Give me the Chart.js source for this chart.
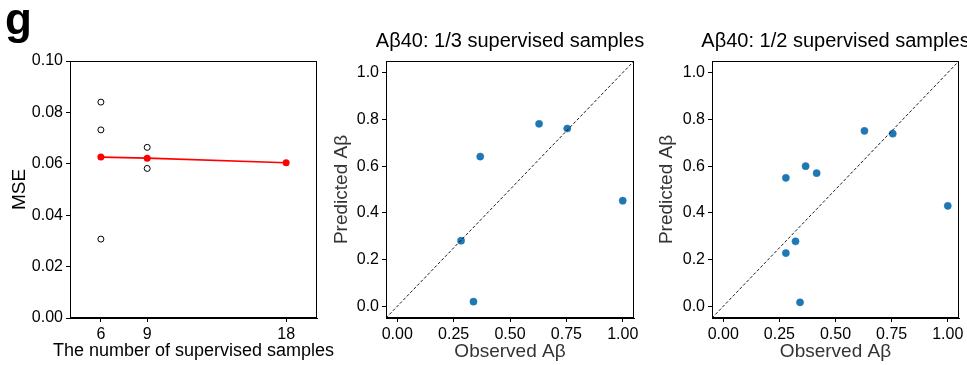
<!DOCTYPE html>
<html>
<head>
<meta charset="utf-8">
<script src="https://cdn.jsdelivr.net/npm/chart.js@4"></script>
<style>
    body { margin: 0; background: #fff; width: 967px; height: 365px; overflow: hidden; position: relative; }
    canvas { position: absolute; top: 0; }
</style>
</head>
<body>
<canvas id="mseChart" width="345" height="365" style="left:0px"></canvas>
<canvas id="thirdChart" width="320" height="365" style="left:330px"></canvas>
<canvas id="halfChart" width="312" height="365" style="left:655px"></canvas>
<script>
// MSE vs number of supervised samples
const sampleSizes = [6, 9, 18];
const meanMse = [0.0626, 0.0622, 0.0604];
const runSizes = [6, 6, 6, 9, 9];
const runMse = [0.0840, 0.0732, 0.0307, 0.0664, 0.0582];
const mseXTicks = [6, 9, 18];
const mseYTicks = [0, 0.02, 0.04, 0.06, 0.08, 0.10];

// Abeta40, 1/3 supervised samples
const observedThird = [0.283, 0.338, 0.368, 0.629, 0.754, 1.0];
const predictedThird = [0.281, 0.020, 0.641, 0.781, 0.761, 0.452];

// Abeta40, 1/2 supervised samples
const observedHalf = [0.279, 0.279, 0.322, 0.342, 0.367, 0.416, 0.629, 0.755, 1.0];
const predictedHalf = [0.550, 0.228, 0.278, 0.017, 0.600, 0.570, 0.751, 0.739, 0.430];

const obsTicks = [0, 0.25, 0.5, 0.75, 1.0];
const predTicks = [0, 0.2, 0.4, 0.6, 0.8, 1.0];
const unitLimits = [-0.05, 1.05];

const FONT = '"Liberation Sans", Arial, Helvetica, sans-serif';
Chart.defaults.font.family = FONT;
Chart.defaults.color = '#000';

const toPts = (xs, ys) => xs.map((x, i) => ({ x: x, y: ys[i] }));

// full box around the plot area, panel title, and things wider than the plot area
const framePlugin = {
    id: 'frame',
    afterDraw(chart, args, opts) {
        const { ctx, chartArea: a } = chart;
        const cx = (a.left + a.right) / 2;
        ctx.save();
        ctx.strokeStyle = '#000';
        ctx.lineWidth = 1;
        const l = Math.round(a.left) + 0.5, t = Math.round(a.top) + 0.5;
        const r = Math.round(a.right) - 0.5, b = Math.round(a.bottom) - 0.5;
        ctx.strokeRect(l, t, r - l, b - t);
        ctx.fillStyle = '#000';
        if (opts.title) {
            ctx.font = '20px ' + FONT;
            ctx.textAlign = 'center';
            ctx.textBaseline = 'alphabetic';
            ctx.fillText(opts.title, cx, a.top - 14);
        }
        if (opts.xTitle) {
            // axis title is wider than the plot, Chart.js would squeeze it
            ctx.font = '18px ' + FONT;
            ctx.textAlign = 'center';
            ctx.textBaseline = 'middle';
            ctx.fillText(opts.xTitle, cx, 351.5);
        }
        if (opts.tag) {
            ctx.font = 'bold 44px ' + FONT;
            ctx.textAlign = 'left';
            ctx.textBaseline = 'alphabetic';
            ctx.fillText(opts.tag, 5, 34);
        }
        ctx.restore();
    }
};

function axis(cfg) {
    return {
        type: 'linear',
        min: cfg.min,
        max: cfg.max,
        afterBuildTicks: s => { s.ticks = cfg.ticks.map(v => ({ value: v })); },
        afterFit: s => { if (cfg.width) s.width = cfg.width; if (cfg.height) s.height = cfg.height; },
        grid: { display: true, drawOnChartArea: false, drawTicks: true, tickLength: 4, tickColor: '#000', color: '#000' },
        border: { display: true, color: '#000', width: 1 },
        ticks: { padding: 3, font: { size: 16 }, color: '#000', maxRotation: 0, autoSkip: false, callback: cfg.fmt },
        title: { display: !!cfg.title, text: cfg.title, font: { size: 19 }, color: cfg.titleColor || '#000', padding: cfg.titlePad }
    };
}

function baseOptions(right, xScale, yScale, frame) {
    return {
        responsive: false,
        animation: false,
        layout: { padding: { top: 61, right: right, bottom: 0, left: 0 } },
        plugins: { legend: { display: false }, tooltip: { enabled: false }, frame: frame },
        scales: { x: xScale, y: yScale }
    };
}

new Chart(document.getElementById('mseChart'), {
    type: 'scatter',
    data: {
        datasets: [
            { data: toPts(sampleSizes, meanMse), showLine: true, borderColor: '#ff0000', borderWidth: 1.6,
              pointRadius: 3.5, pointBackgroundColor: '#ff0000', pointBorderWidth: 0 },
            { data: toPts(runSizes, runMse), pointRadius: 3, pointBorderColor: '#000', pointBorderWidth: 1,
              pointBackgroundColor: '#fff' }
        ]
    },
    options: baseOptions(28,
        axis({ min: 4, max: 20, ticks: mseXTicks, fmt: v => String(v), height: 47 }),
        axis({ min: 0, max: 0.1, ticks: mseYTicks, fmt: v => v.toFixed(2), title: 'MSE',
               width: 70, titlePad: { top: 8, bottom: 0 } }),
        { tag: 'g', xTitle: 'The number of supervised samples' }),
    plugins: [framePlugin]
});

function scatterPanel(id, obs, pred, title, yWidth, right) {
    new Chart(document.getElementById(id), {
        type: 'scatter',
        data: {
            datasets: [
                { data: toPts(unitLimits, unitLimits), showLine: true, borderColor: '#000', borderWidth: 0.9,
                  borderDash: [3, 2], pointRadius: 0 },
                { data: toPts(obs, pred), pointRadius: 3.6, pointBackgroundColor: '#1f77b4',
                  pointBorderColor: '#1f77b4', pointBorderWidth: 0.5 }
            ]
        },
        options: baseOptions(right,
            axis({ min: unitLimits[0], max: unitLimits[1], ticks: obsTicks, fmt: v => v.toFixed(2),
                   title: 'Observed A\u03b2', titleColor: '#333', height: 47, titlePad: { top: 0, bottom: 2 } }),
            axis({ min: unitLimits[0], max: unitLimits[1], ticks: predTicks, fmt: v => v.toFixed(1),
                   title: 'Predicted A\u03b2', titleColor: '#333', width: yWidth, titlePad: { top: 0, bottom: 0 } }),
            { title: title }),
        plugins: [framePlugin]
    });
}

scatterPanel('thirdChart', observedThird, predictedThird, 'A\u03b240: 1/3 supervised samples', 56, 16);
scatterPanel('halfChart', observedHalf, predictedHalf, 'A\u03b240: 1/2 supervised samples', 57, 8);
</script>
</body>
</html>
